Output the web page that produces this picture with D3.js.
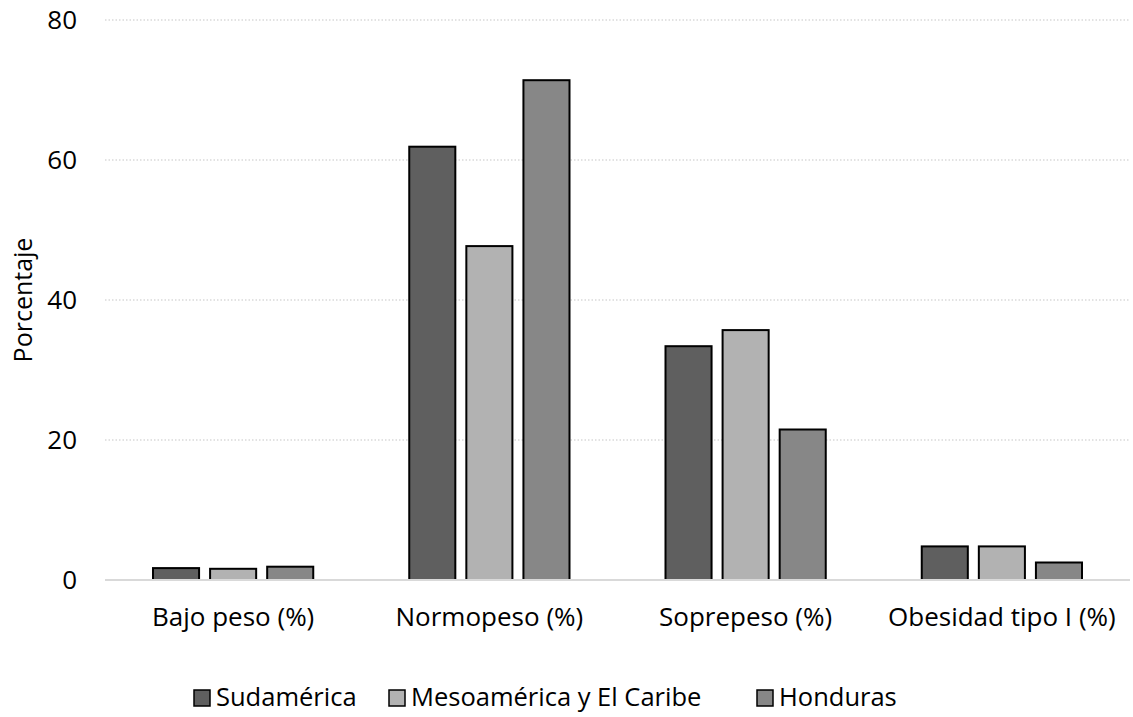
<!DOCTYPE html>
<html>
<head>
<meta charset="utf-8">
<script src="https://cdn.jsdelivr.net/npm/d3@7"></script>
<style>
  html, body { margin: 0; padding: 0; background: #fff; }
  svg { display: block; font-family: "Open Sans", "Noto Sans", sans-serif; }
</style>
</head>
<body>
<svg id="chart" width="1133" height="717"></svg>
<script>
// Categorías de IMC y porcentajes por región
const categories = ["Bajo peso (%)", "Normopeso (%)", "Soprepeso (%)", "Obesidad tipo I (%)"];
const seriesNames = ["Sudamérica", "Mesoamérica y El Caribe", "Honduras"];
const sudamerica = [1.7, 61.9, 33.4, 4.8];
const mesoamerica = [1.6, 47.7, 35.7, 4.8];
const honduras = [1.9, 71.4, 21.5, 2.5];
const yTicks = [0, 20, 40, 60, 80];
const colors = ["#5f5f5f", "#b2b2b2", "#878787"];

const seriesValues = [sudamerica, mesoamerica, honduras];

const svg = d3.select("#chart");
const margin = { left: 105, right: 3, top: 20, bottom: 137 };
const W = 1133, H = 717;
const FONT = "'Open Sans', sans-serif";

const x0 = d3.scaleBand().domain(categories)
  .range([margin.left, W - margin.right]).paddingInner(0).paddingOuter(0);
const groupPad = 48;
const x1 = d3.scaleBand().domain(seriesNames)
  .range([groupPad, x0.bandwidth() - groupPad]).paddingInner(0.193).paddingOuter(0);
const y = d3.scaleLinear().domain([0, 80]).range([H - margin.bottom, margin.top]);

// Líneas de cuadrícula
svg.append("g").selectAll("line").data(yTicks.filter(t => t > 0)).join("line")
  .attr("x1", margin.left).attr("x2", W - margin.right)
  .attr("y1", d => y(d)).attr("y2", d => y(d))
  .attr("stroke", "#d9d9d9").attr("stroke-width", 1.3)
  .attr("stroke-dasharray", "1.5,2");

// Eje Y (solo etiquetas)
const yAxis = svg.append("g").attr("transform", `translate(${margin.left},0)`)
  .call(d3.axisLeft(y).tickValues(yTicks).tickSize(0).tickPadding(28));
yAxis.select(".domain").remove();
yAxis.attr("font-size", 26).attr("font-family", FONT);
yAxis.selectAll("text").attr("fill", "#000");

// Barras
const groups = svg.append("g").selectAll("g").data(categories).join("g")
  .attr("transform", d => `translate(${x0(d)},0)`);
groups.selectAll("rect")
  .data((c, i) => seriesNames.map((s, j) => ({ s, j, v: seriesValues[j][i] })))
  .join("rect")
  .attr("x", d => x1(d.s))
  .attr("width", x1.bandwidth())
  .attr("y", d => y(d.v))
  .attr("height", d => y(0) - y(d.v))
  .attr("fill", d => colors[d.j])
  .attr("stroke", "#000").attr("stroke-width", 2);

// Eje X
svg.append("line")
  .attr("x1", margin.left).attr("x2", W - margin.right)
  .attr("y1", y(0)).attr("y2", y(0))
  .attr("stroke", "#d9d9d9").attr("stroke-width", 2);
const xAxis = svg.append("g").attr("transform", `translate(0,${y(0)})`)
  .call(d3.axisBottom(x0).tickSize(0).tickPadding(28));
xAxis.select(".domain").remove();
xAxis.attr("font-size", 26).attr("font-family", FONT);
xAxis.selectAll("text").attr("fill", "#000");

// Título del eje Y
svg.append("text")
  .attr("transform", `translate(32,${(y(0) + y(80)) / 2}) rotate(-90)`)
  .attr("text-anchor", "middle").attr("font-size", 25).attr("fill", "#000")
  .attr("font-family", FONT)
  .text("Porcentaje");

// Leyenda
const legendItems = [
  { name: seriesNames[0], x: 194 },
  { name: seriesNames[1], x: 389 },
  { name: seriesNames[2], x: 757 }
];
const lg = svg.append("g").selectAll("g").data(legendItems).join("g")
  .attr("transform", d => `translate(${d.x},690)`);
lg.append("rect").attr("width", 16).attr("height", 16)
  .attr("fill", (d, i) => colors[i]).attr("stroke", "#000").attr("stroke-width", 1.5);
lg.append("text").attr("x", 22).attr("y", 16).attr("font-size", 25.5).attr("fill", "#000")
  .attr("font-family", FONT)
  .text(d => d.name);
</script>
</body>
</html>
